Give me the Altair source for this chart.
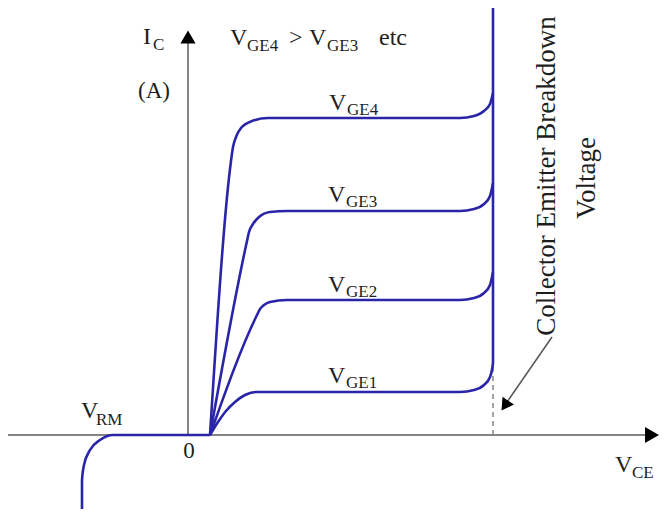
import altair as alt
import pandas as pd

# ---- curve data (V_CE, I_C), arbitrary units ----
vge4_x = [2.2, 4.3, 4.5, 4.8, 5.3, 6.4, 8.0, 27.2, 28.6, 29.6, 30.2, 30.5]
vge4_y = [0.0, 27.4, 28.8, 29.8, 30.7, 31.4, 31.7, 31.7, 31.9, 32.4, 33.1, 34.2]
vge3_x = [2.2, 5.9, 6.1, 6.5, 7.1, 8.2, 9.9, 27.2, 28.6, 29.6, 30.2, 30.5]
vge3_y = [0.0, 19.4, 20.3, 21.1, 21.8, 22.3, 22.4, 22.4, 22.6, 23.1, 23.9, 25.2]
vge2_x = [2.2, 6.9, 7.2, 7.6, 8.2, 9.9, 27.2, 28.6, 29.6, 30.2, 30.5]
vge2_y = [0.0, 12.0, 12.6, 13.0, 13.3, 13.5, 13.5, 13.7, 14.2, 15.0, 16.3]
vge1_x = [2.2, 3.0, 3.8, 4.7, 5.7, 6.8, 27.2, 28.6, 29.6, 30.2, 30.5, 30.5]
vge1_y = [0.0, 1.3, 2.4, 3.3, 4.0, 4.3, 4.3, 4.5, 5.0, 5.8, 7.2, 42.7]
rev_x = [2.2, -7.5, -8.8, -9.8, -10.4, -10.6, -10.6]
rev_y = [0.0, 0.0, -0.5, -1.5, -3.0, -4.5, -7.4]

X_DOMAIN = [-18, 47.1]
Y_DOMAIN = [-7.4, 42.7]
BREAKDOWN_V = 30.5
BREAKDOWN_KNEE = 7.2

# ---- text labels ----
main_text = ["I", "V", ">", "V", "etc", "V", "V", "V", "V", "V", "V"]
main_x = [-4.5, 4.2, 10.1, 12.1, 19.1, 14.1, 14.0, 14.0, 14.0, -10.7, 42.7]
main_y = [39.1, 39.0, 39.0, 39.0, 39.0, 32.5, 23.3, 14.3, 5.2, 1.7, -3.7]
sub_text = ["C", "GE4", "GE3", "GE4", "GE3", "GE2", "GE1", "RM", "CE"]
sub_x = [-3.5, 5.9, 13.9, 15.9, 15.8, 15.8, 15.8, -9.2, 44.4]
sub_y = [38.5, 38.4, 38.4, 32.0, 22.8, 13.8, 4.7, 1.0, -4.3]
mid_text = ["(A)", "0"]
mid_x = [-3.4, 0.1]
mid_y = [33.7, -2.3]
rot_text = ["Collector Emitter Breakdown", "Voltage"]
rot_x = [35.9, 39.9]
rot_y = [25.9, 25.7]

rows = []
for name, xs_, ys_ in [("VGE4", vge4_x, vge4_y), ("VGE3", vge3_x, vge3_y),
                       ("VGE2", vge2_x, vge2_y), ("VGE1", vge1_x, vge1_y),
                       ("REV", rev_x, rev_y)]:
    for i, (a, b) in enumerate(zip(xs_, ys_)):
        rows.append({"series": name, "i": i, "x": a, "y": b})
curves = pd.DataFrame(rows)

xs = alt.Scale(domain=X_DOMAIN, nice=False, zero=False)
ys = alt.Scale(domain=Y_DOMAIN, nice=False, zero=False)
X = lambda f="x": alt.X(f"{f}:Q", scale=xs, axis=None)
Y = lambda f="y": alt.Y(f"{f}:Q", scale=ys, axis=None)

AXIS_GRAY = "#858585"
BLUE = "#2a25a8"
FONT = "Liberation Serif"
TXT = "#1e1e1e"

# axes
h_axis = alt.Chart(pd.DataFrame({"x": [X_DOMAIN[0]], "x2": [46.4], "y": [0.0]})).mark_rule(
    color=AXIS_GRAY, strokeWidth=2).encode(x=X(), x2="x2:Q", y=Y())
v_axis = alt.Chart(pd.DataFrame({"x": [0.0], "y": [0.0], "y2": [39.8]})).mark_rule(
    color=AXIS_GRAY, strokeWidth=2).encode(x=X(), y=Y(), y2="y2:Q")
arrow_r = alt.Chart(pd.DataFrame({"x": [46.4], "y": [0.0]})).mark_point(
    shape="triangle-right", filled=True, size=260, color="black", opacity=1).encode(x=X(), y=Y())
arrow_u = alt.Chart(pd.DataFrame({"x": [0.0], "y": [39.8]})).mark_point(
    shape="triangle-up", filled=True, size=230, color="black", opacity=1).encode(x=X(), y=Y())

# dashed breakdown marker
dash = alt.Chart(pd.DataFrame({"x": [BREAKDOWN_V], "y": [0.0], "y2": [BREAKDOWN_KNEE]})).mark_rule(
    color=AXIS_GRAY, strokeWidth=1.5, strokeDash=[5, 4]).encode(x=X(), y=Y(), y2="y2:Q")

# annotation arrow
ann_line = alt.Chart(pd.DataFrame({"x": [36.4], "y": [9.8], "x2": [31.7], "y2": [3.0]})).mark_rule(
    color="#555555", strokeWidth=1.5).encode(x=X(), y=Y(), x2="x2:Q", y2="y2:Q")
ann_head = alt.Chart(pd.DataFrame({"x": [31.8], "y": [3.1]})).mark_point(
    shape="triangle", angle=214, filled=True, size=190, color="black", opacity=1).encode(x=X(), y=Y())

# curves
lines = alt.Chart(curves).mark_line(color=BLUE, strokeWidth=2.6, strokeJoin="round",
                                    interpolate="monotone").encode(
    x=X(), y=Y(), detail="series:N", order="i:Q")

main = alt.Chart(pd.DataFrame({"t": main_text, "x": main_x, "y": main_y})).mark_text(
    font=FONT, fontSize=24, align="left", baseline="alphabetic", color=TXT).encode(
    x=X(), y=Y(), text="t:N")
sub = alt.Chart(pd.DataFrame({"t": sub_text, "x": sub_x, "y": sub_y})).mark_text(
    font=FONT, fontSize=17, align="left", baseline="alphabetic", color=TXT).encode(
    x=X(), y=Y(), text="t:N")
mid = alt.Chart(pd.DataFrame({"t": mid_text, "x": mid_x, "y": mid_y})).mark_text(
    font=FONT, fontSize=23, align="center", baseline="alphabetic", color=TXT).encode(
    x=X(), y=Y(), text="t:N")
rot = alt.Chart(pd.DataFrame({"t": rot_text, "x": rot_x, "y": rot_y})).mark_text(
    font=FONT, fontSize=27, align="center", baseline="middle", angle=270, color=TXT).encode(
    x=X(), y=Y(), text="t:N")

chart = alt.layer(
    h_axis, v_axis, dash, ann_line, lines, arrow_r, arrow_u, ann_head, main, sub, mid, rot
).properties(width=651, height=501, padding=0, autosize=alt.AutoSizeParams(type="none"),
             background="white").configure_view(stroke=None)

chart.save("out.html", embed_options={"renderer": "svg", "actions": False})
